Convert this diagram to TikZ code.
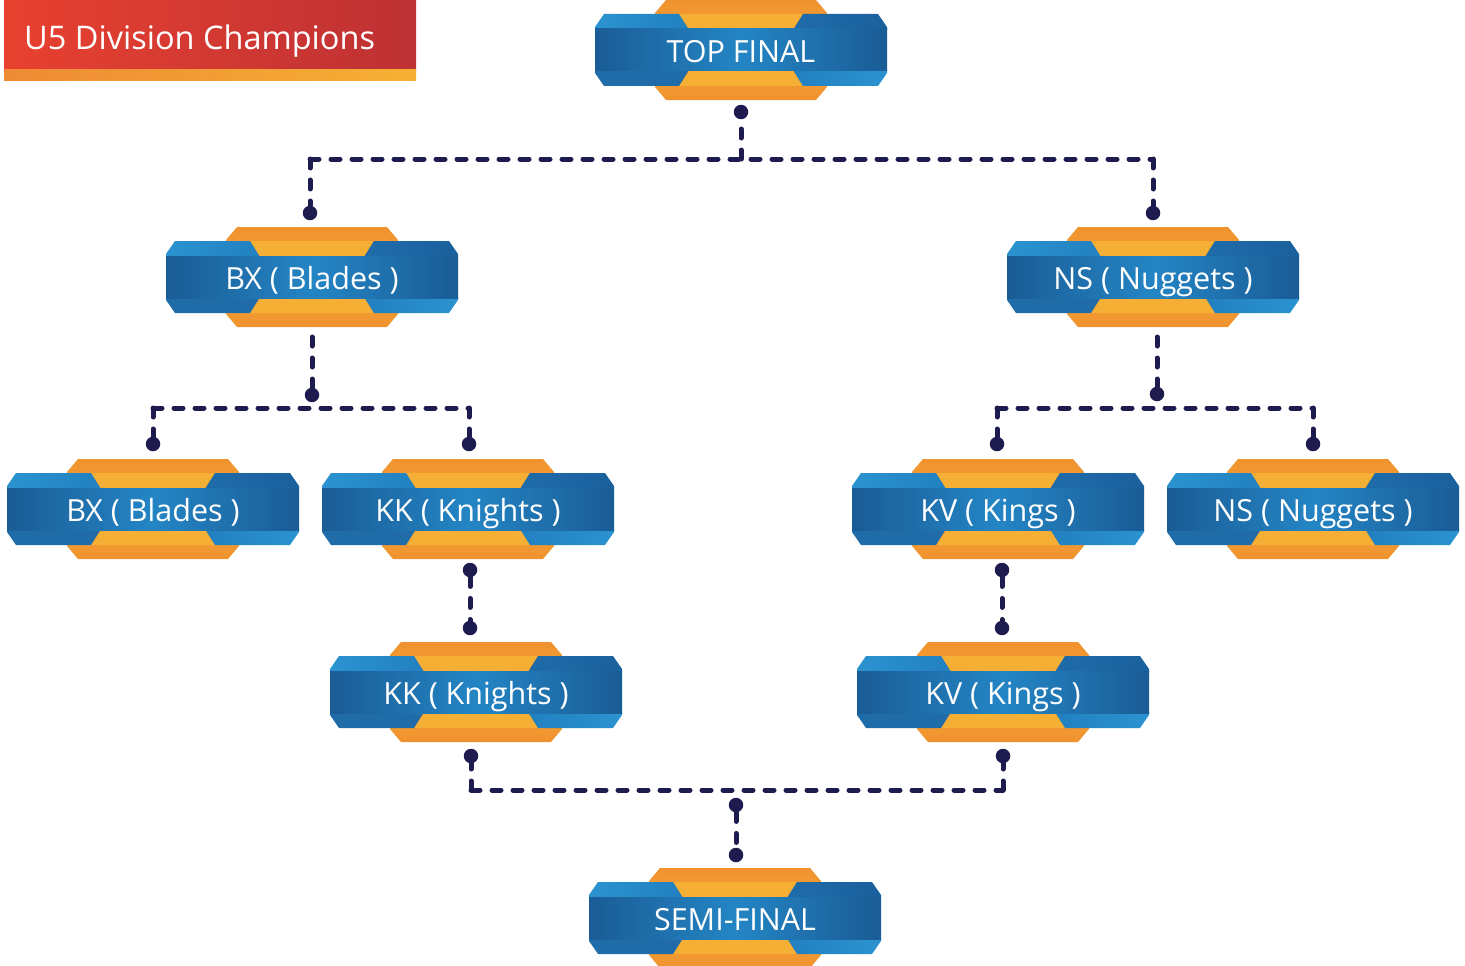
\documentclass[tikz,border=0pt]{standalone}
\usepackage{fontspec}
\setmainfont{Open Sans}
\usetikzlibrary{calc}
\definecolor{orgdark}{HTML}{F0922F}
\definecolor{orglight}{HTML}{F5A833}
\definecolor{orgtrap}{HTML}{F6AF35}
\definecolor{bandedge}{HTML}{1A5C96}
\definecolor{bandmid}{HTML}{2485C4}
\definecolor{tabA}{HTML}{2B93D0}
\definecolor{tabB}{HTML}{2280C0}
\definecolor{tabC}{HTML}{1F6CA9}
\definecolor{tabD}{HTML}{1A609D}
\definecolor{dotcol}{HTML}{1E1B4F}
\definecolor{hdrL}{HTML}{E84130}
\definecolor{hdrR}{HTML}{BD3134}
\definecolor{stripL}{HTML}{EE8A35}
\definecolor{stripR}{HTML}{F6B034}
\tikzset{
  ribtext/.style={text=white, font=\fontsize{30.5}{36}\selectfont, inner sep=0pt, anchor=base},
  conn/.style={draw=dotcol, line width=5pt, line cap=round, line join=round, dash pattern=on 9pt off 12pt},
  dotmark/.style={circle, fill=dotcol, minimum size=14.5pt, inner sep=0pt},
}
\newcommand\ribbon[4]{%
  \begin{scope}[shift={(#2,#3)}]
    \shade[top color=orgdark, bottom color=orgdark, middle color=orglight]
      (-75,-50) -- (75,-50) -- (86,-37) -- (86,37) -- (75,50) -- (-75,50) -- (-86,37) -- (-86,-37) -- cycle;
    \fill[orgtrap] (-62,-36) -- (62,-36) -- (52,-21) -- (-52,-21) -- cycle;
    \fill[orgtrap] (-62,36) -- (62,36) -- (52,21) -- (-52,21) -- cycle;
    \shade[left color=tabA, right color=tabB]
      (-146,-20) -- (-146,-23) -- (-137,-36) -- (-62,-36) -- (-52,-20) -- cycle;
    \shade[left color=tabC, right color=tabD]
      (52,-20) -- (62,-36) -- (137,-36) -- (146,-23) -- (146,-20) -- cycle;
    \shade[left color=tabC, right color=tabC]
      (-146,20) -- (-52,20) -- (-62,36) -- (-137,36) -- (-146,23) -- cycle;
    \shade[left color=tabB, right color=tabA]
      (52,20) -- (146,20) -- (146,23) -- (137,36) -- (62,36) -- cycle;
    \shade[left color=bandedge, right color=bandedge, middle color=bandmid]
      (-146,-21) rectangle (146,21);
  \end{scope}
  \node[ribtext] (#1) at ($(#2,#3)+(0,12.5)$) {#4};
}
\begin{document}
\begin{tikzpicture}[x=1pt,y=-1pt]
\useasboundingbox (0,0) rectangle (1465,966);
\fill[white] (0,0) rectangle (1465,966);
% header
\shade[left color=hdrL, right color=hdrR] (4,0) rectangle (416,70);
\shade[left color=stripL, right color=stripR] (4,70) rectangle (416,81);
\node[text=white, font=\fontsize{32.5}{38}\selectfont, anchor=base west, inner sep=0pt] (hdr) at (24,50) {U5 Division Champions};
% ribbons
\ribbon{top}{741}{50}{TOP FINAL}
\ribbon{bxa}{312}{277}{BX ( Blades )}
\ribbon{nsa}{1153}{277}{NS ( Nuggets )}
\ribbon{bxb}{153}{509}{BX ( Blades )}
\ribbon{kkb}{468}{509}{KK ( Knights )}
\ribbon{kvb}{998}{509}{KV ( Kings )}
\ribbon{nsb}{1313}{509}{NS ( Nuggets )}
\ribbon{kkc}{476}{692}{KK ( Knights )}
\ribbon{kvc}{1003}{692}{KV ( Kings )}
\ribbon{semi}{735}{918}{SEMI-FINAL}
% coordinates
\coordinate (t0) at (741,128);
\coordinate (tj) at (741,159);
\coordinate (tl) at (310,159);
\coordinate (tr) at (1153,159);
\coordinate (a0) at (312,337);
\coordinate (al) at (153,408);
\coordinate (ar) at (469,408);
\coordinate (b0) at (1157,337);
\coordinate (bl) at (997,408);
\coordinate (br) at (1313,408);
\coordinate (cl) at (471,790);
\coordinate (cr) at (1003,790);
% dots
\node[dotmark] (dt) at (741,112) {};
\node[dotmark] (dtl) at (310,213) {};
\node[dotmark] (dtr) at (1153,213) {};
\node[dotmark] (da) at (312,395) {};
\node[dotmark] (dal) at (153,444) {};
\node[dotmark] (dar) at (469,444) {};
\node[dotmark] (db) at (1157,394) {};
\node[dotmark] (dbl) at (997,444) {};
\node[dotmark] (dbr) at (1313,444) {};
\node[dotmark] (dk1) at (470,570) {};
\node[dotmark] (dk2) at (470,628) {};
\node[dotmark] (dv1) at (1002,570) {};
\node[dotmark] (dv2) at (1002,628) {};
\node[dotmark] (dkc) at (471,756) {};
\node[dotmark] (dvc) at (1003,756) {};
\node[dotmark] (ds1) at (736,805) {};
\node[dotmark] (ds2) at (736,855) {};
% connectors
\path[conn] (tj) -- (t0);
\path[conn] (tl) -- (tr);
\path[conn] (tl) -- (dtl);
\path[conn] (tr) -- (dtr);
\path[conn] (a0) -- (da);
\path[conn] (al) -- (ar);
\path[conn] (al) -- (dal);
\path[conn] (ar) -- (dar);
\path[conn] (b0) -- (db);
\path[conn] (bl) -- (br);
\path[conn] (bl) -- (dbl);
\path[conn] (br) -- (dbr);
\path[conn] (dk1) -- (dk2);
\path[conn] (dv1) -- (dv2);
\path[conn] (cl) -- (dkc);
\path[conn] (cr) -- (dvc);
\path[conn] (cl) -- (cr);
\path[conn] (ds1) -- (ds2);
\end{tikzpicture}
\end{document}
